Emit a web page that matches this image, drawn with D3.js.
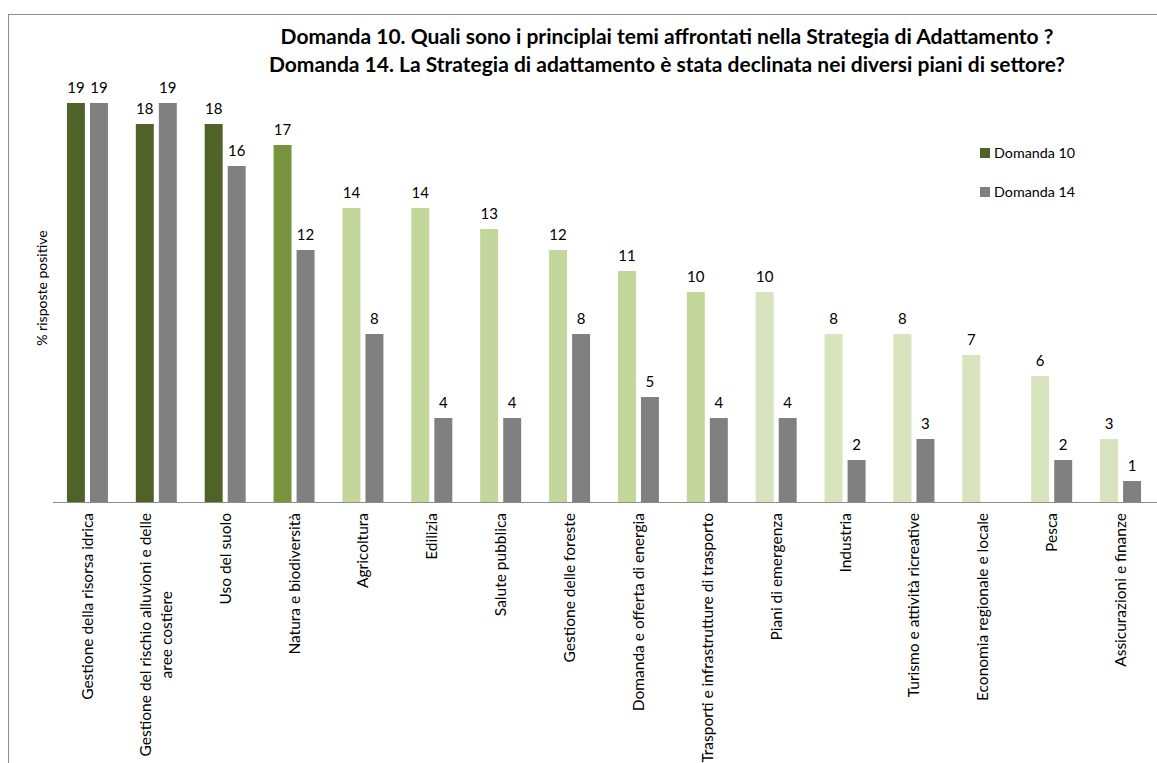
<!DOCTYPE html>
<html>
<head>
<meta charset="utf-8">
<script src="https://cdn.jsdelivr.net/npm/d3@7/dist/d3.min.js"></script>
<style>
  html, body { margin: 0; padding: 0; background: #fff; }
  svg { display: block; font-family: Lato, "Open Sans", sans-serif; }
</style>
</head>
<body>
<svg id="chart" width="1157" height="763"></svg>
<script>
const categories = [
  ["Gestione della risorsa idrica"],
  ["Gestione del rischio alluvioni e delle", "aree costiere"],
  ["Uso del suolo"],
  ["Natura e biodiversità"],
  ["Agricoltura"],
  ["Edilizia"],
  ["Salute pubblica"],
  ["Gestione delle foreste"],
  ["Domanda e offerta di energia"],
  ["Trasporti e infrastrutture di trasporto"],
  ["Piani di emergenza"],
  ["Industria"],
  ["Turismo e attività ricreative"],
  ["Economia regionale e locale"],
  ["Pesca"],
  ["Assicurazioni e finanze"]
];
const seriesNames = ["Domanda 10", "Domanda 14"];
const domanda10 = [19, 18, 18, 17, 14, 14, 13, 12, 11, 10, 10, 8, 8, 7, 6, 3];
const domanda14 = [19, 19, 16, 12, 8, 4, 4, 8, 5, 4, 4, 2, 3, null, 2, 1];
const domanda10Colors = ["#4F6228", "#4F6228", "#4F6228", "#77933C",
  "#C3D69B", "#C3D69B", "#C3D69B", "#C3D69B", "#C3D69B", "#C3D69B",
  "#D7E4BD", "#D7E4BD", "#D7E4BD", "#D7E4BD", "#D7E4BD", "#D7E4BD"];
const domanda14Color = "#808080";
const titleLines = [
  "Domanda 10. Quali sono i principlai temi affrontati nella Strategia di Adattamento ?",
  "Domanda 14. La Strategia di adattamento è stata declinata nei diversi piani di settore?"
];
const yTitle = "% risposte positive";

const svg = d3.select("#chart");
const keys = categories.map((c, i) => "c" + i);

// frame
svg.append("rect").attr("x", 8.5).attr("y", 14.5).attr("width", 1300).attr("height", 900)
  .attr("fill", "none").attr("stroke", "#8c8c8c").attr("stroke-width", 1);

const baseY = 502;
const x0 = d3.scaleBand().domain(keys).range([53, 1155]).paddingInner(0.405).paddingOuter(0.2025);
const x1 = d3.scaleBand().domain(seriesNames).range([0, x0.bandwidth()]).paddingInner(0.22);
const y = d3.scaleLinear().domain([0, 19]).range([baseY, 103]);

const data = keys.map((k, i) => ({ key: k, i, vals: [domanda10[i], domanda14[i]] }));

const g = svg.append("g");
const groups = g.selectAll("g.cat").data(data).join("g")
  .attr("transform", d => `translate(${x0(d.key)},0)`);

groups.selectAll("rect").data(d => d.vals.map((v, j) => ({ v, j, i: d.i })).filter(e => e.v != null))
  .join("rect")
  .attr("x", e => x1(seriesNames[e.j]))
  .attr("width", x1.bandwidth())
  .attr("y", e => y(e.v))
  .attr("height", e => baseY - y(e.v))
  .attr("fill", e => e.j === 0 ? domanda10Colors[e.i] : domanda14Color);

groups.selectAll("text.val").data(d => d.vals.map((v, j) => ({ v, j, i: d.i })).filter(e => e.v != null))
  .join("text").attr("class", "val")
  .attr("x", e => x1(seriesNames[e.j]) + x1.bandwidth() / 2)
  .attr("y", e => y(e.v) - 10)
  .attr("text-anchor", "middle")
  .attr("font-size", 15)
  .attr("fill", "#000")
  .text(e => e.v);

// x axis
const xAxis = d3.axisBottom(x0).tickSize(0).tickFormat("");
const ax = svg.append("g").attr("transform", `translate(0,${baseY})`).call(xAxis);
ax.select(".domain").attr("stroke", "#8c8c8c").attr("d", "M53,0.5H1157");

// category labels
data.forEach(d => {
  const lines = categories[d.i];
  const cx = x0(d.key) + x0.bandwidth() / 2;
  const lg = svg.append("g").attr("transform", `translate(${cx},${513}) rotate(-90)`);
  if (lines.length === 1) {
    lg.append("text").attr("x", 0).attr("y", 0).attr("dy", "0.35em")
      .attr("text-anchor", "end").attr("font-size", 15.5).attr("fill", "#000").text(lines[0]);
  } else {
    const tmp = lines.map((l, k) => lg.append("text").attr("font-size", 15.5).attr("fill", "#000")
      .attr("text-anchor", "middle").text(l));
    const L = d3.max(tmp, t => t.node().getComputedTextLength());
    tmp.forEach((t, k) => t.attr("x", -L / 2).attr("y", (k - (lines.length - 1) / 2) * 21).attr("dy", "0.35em"));
  }
});

// y title
svg.append("text").attr("transform", `translate(42,288) rotate(-90)`)
  .attr("text-anchor", "middle").attr("dy", "0.35em").attr("font-size", 14).attr("fill", "#000").text(yTitle);

// title
svg.append("g").selectAll("text").data(titleLines).join("text")
  .attr("x", 667).attr("y", (d, i) => 44 + i * 28)
  .attr("text-anchor", "middle").attr("font-weight", "bold").attr("font-size", 21).attr("fill", "#000")
  .text(d => d);

// legend
const legend = svg.append("g");
const legendColors = ["#4F6228", domanda14Color];
seriesNames.forEach((s, i) => {
  legend.append("rect").attr("x", 980).attr("y", 148 + i * 39).attr("width", 10).attr("height", 10)
    .attr("fill", legendColors[i]);
  legend.append("text").attr("x", 994).attr("y", 153 + i * 39).attr("dy", "0.35em")
    .attr("font-size", 14.3).attr("fill", "#000").text(s);
});
</script>
</body>
</html>
